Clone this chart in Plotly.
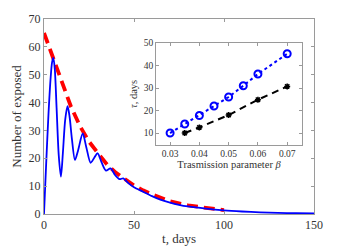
import plotly.graph_objects as go

# main plot: blue simulation
t_blue = [0, 1.2, 2.5, 3.7, 4.5, 5.2, 6.0, 7.0, 8.2, 9.4, 10.5, 11.8, 13.1, 14.2, 15.5, 17.2, 19.0, 21.5, 23.5, 25.9, 28.0, 29.8, 32.0, 34.4, 37.0, 39.5, 42.0, 44.0, 47.0, 50, 55, 60, 65, 70, 75, 80, 90, 100, 110, 120, 130, 140, 150]
y_blue = [0, 18, 36, 49, 54.5, 56, 52, 38, 21, 13.4, 22, 34, 38.7, 35, 27, 19.4, 23, 28.9, 24, 18.4, 20.3, 21.8, 18.5, 15.6, 16.4, 14.0, 12.5, 12.8, 11.0, 9.6, 8.0, 6.4, 5.1, 4.1, 3.3, 2.7, 1.9, 1.3, 0.9, 0.6, 0.4, 0.3, 0.2]

# main plot: red fitted envelope
t_red = [0, 5, 10, 15, 20, 25, 30, 35, 40, 45, 50, 55, 60, 70, 80, 90, 100]
y_red = [65, 56, 46.5, 38.5, 31.5, 26, 21.8, 17.8, 14.8, 12.4, 10.2, 8.5, 7.0, 4.6, 3.1, 2.2, 1.4]

# inset
beta_circ = [0.03, 0.035, 0.04, 0.045, 0.05, 0.055, 0.06, 0.07]
tau_circ = [10, 14, 17.8, 22, 26, 31, 36.2, 45.2]
beta_star = [0.035, 0.04, 0.05, 0.06, 0.07]
tau_star = [10, 12.5, 18, 24.8, 30.7]

main_ticks_x = [0, 50, 100, 150]
main_ticks_y = [0, 10, 20, 30, 40, 50, 60, 70]
inset_ticks_x = [0.03, 0.04, 0.05, 0.06, 0.07]
inset_ticks_y = [10, 20, 30, 40, 50]

FONT = "Liberation Serif"
TXT = "#333333"
FRAME = "#9a9a9a"

fig = go.Figure()
fig.add_trace(go.Scatter(x=t_red, y=y_red, mode="lines",
                         line=dict(color="#ff0000", width=3.8, dash="11px,6px"),
                         showlegend=False))
fig.add_trace(go.Scatter(x=t_blue, y=y_blue, mode="lines",
                         line=dict(color="#0000ff", width=1.8, shape="spline", smoothing=0.8),
                         showlegend=False))

fig.add_trace(go.Scatter(x=beta_circ, y=tau_circ, mode="lines+markers", xaxis="x2", yaxis="y2",
                         line=dict(color="#0000ff", width=2, dash="dot"),
                         marker=dict(symbol="circle-open", size=7, color="#0000ff", line=dict(width=2)),
                         showlegend=False))
fig.add_trace(go.Scatter(x=beta_star, y=tau_star, mode="lines+markers", xaxis="x2", yaxis="y2",
                         line=dict(color="#000000", width=2, dash="7px,5px"),
                         marker=dict(symbol="asterisk-open", size=5, color="#000000", line=dict(width=1.5)),
                         showlegend=False))

axis_common = dict(showline=True, linecolor=FRAME, linewidth=1, mirror="ticks", automargin=False,
                   ticks="inside", tickcolor=FRAME, ticklen=3, showgrid=False, zeroline=False,
                   tickfont=dict(family=FONT, size=12, color=TXT))

fig.update_layout(
    width=338, height=241,
    margin=dict(l=36, r=32, t=11, b=35),
    paper_bgcolor="white", plot_bgcolor="white",
    font=dict(family=FONT, color=TXT),
    xaxis=dict(axis_common, range=[0, 150], tickvals=main_ticks_x,
               title=dict(text="t, days", font=dict(family=FONT, size=13, color=TXT), standoff=2)),
    yaxis=dict(axis_common, range=[0, 70], tickvals=main_ticks_y,
               title=dict(text="Number of exposed", font=dict(family=FONT, size=13, color=TXT), standoff=4)),
    xaxis2=dict(axis_common, domain=[0.415, 0.956], anchor="y2", range=[0.0252, 0.0751],
                tickvals=inset_ticks_x, ticktext=["0.03", "0.04", "0.05", "0.06", "0.07"],
                tickfont=dict(family=FONT, size=9.5, color=TXT),
                title=dict(text="Trasmission parameter <i>β</i>", font=dict(family=FONT, size=10.5, color=TXT), standoff=2)),
    yaxis2=dict(axis_common, domain=[0.354, 0.877], anchor="x2", range=[4.7, 50],
                tickvals=inset_ticks_y, tickfont=dict(family=FONT, size=9.5, color=TXT),
                title=dict(text="<i>τ</i>, days", font=dict(family=FONT, size=10.5, color=TXT), standoff=3)),
)
fig.add_shape(type="rect", xref="x2 domain", yref="y2 domain", x0=0, x1=1, y0=0, y1=1,
              fillcolor="white", line=dict(width=0), layer="below")

fig.write_html("out.html")
